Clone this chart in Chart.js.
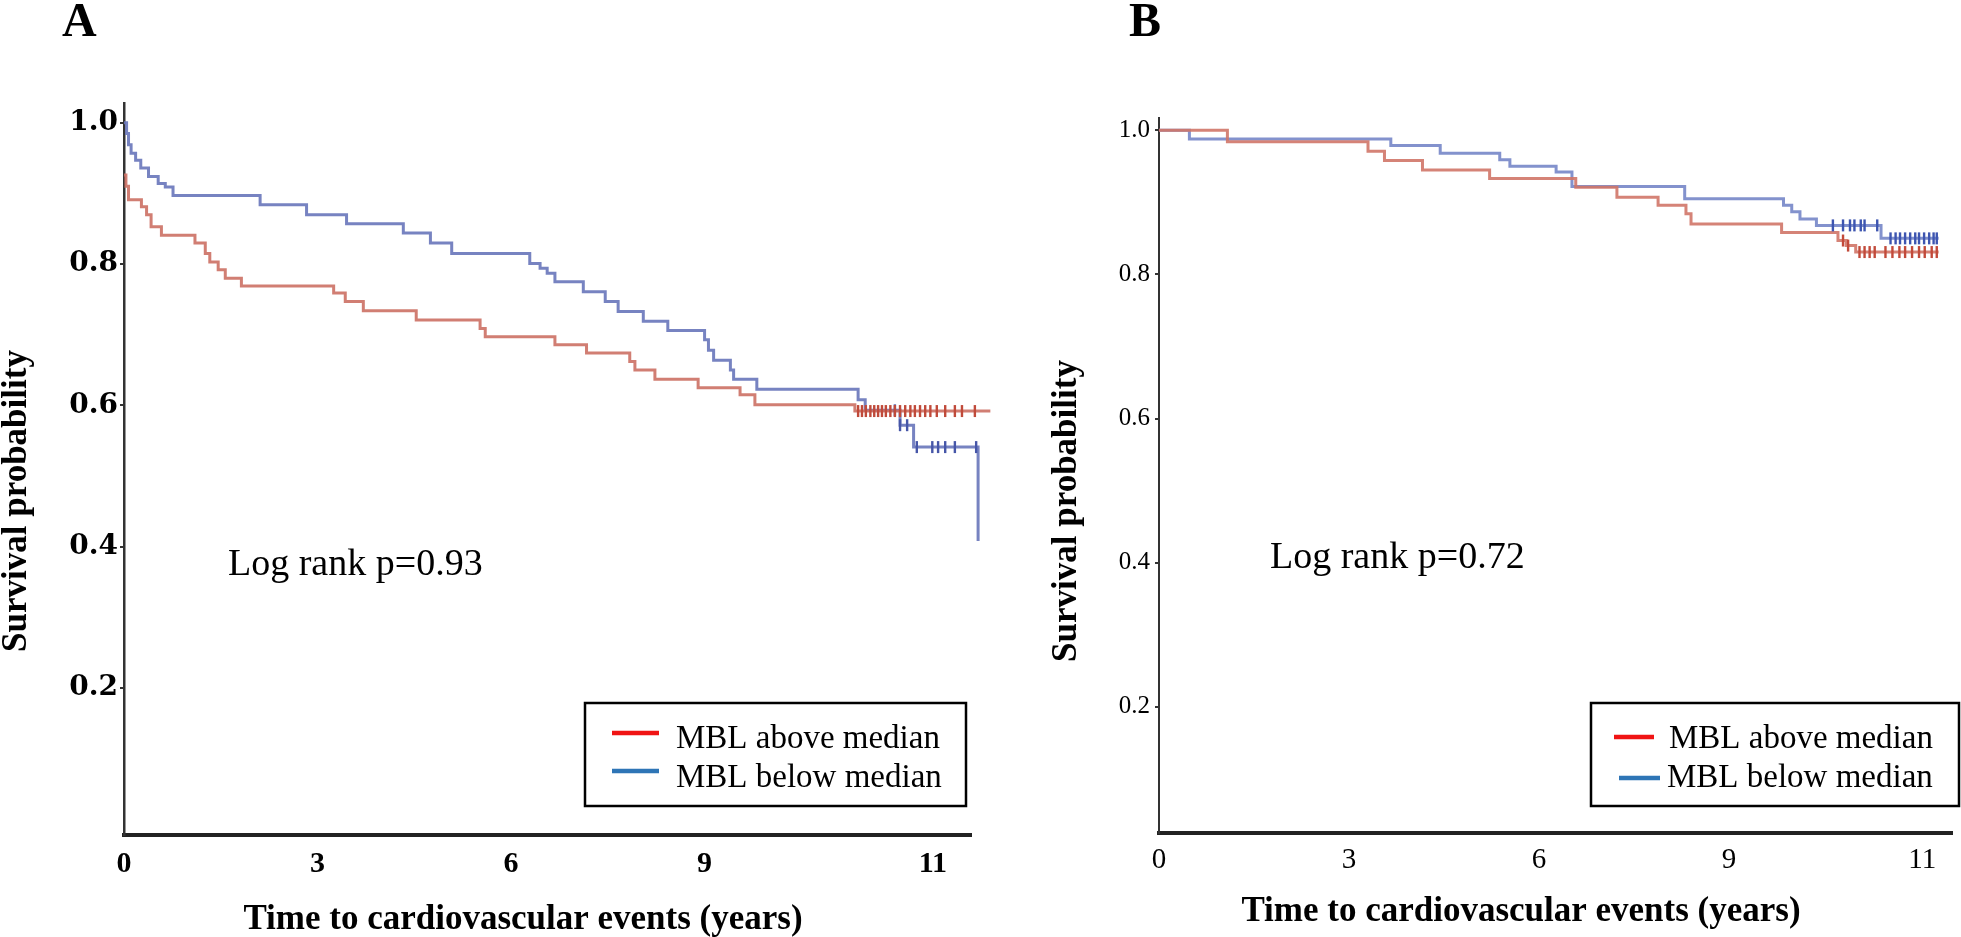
<!DOCTYPE html>
<html><head><meta charset="utf-8">
<script src="https://cdn.jsdelivr.net/npm/chart.js@4.4.1/dist/chart.umd.min.js"></script>
<style>
html,body{margin:0;padding:0;background:#fff;width:1961px;height:937px;overflow:hidden}
canvas{position:absolute;top:0}
#cA{left:0}
#cB{left:1000px}
</style></head><body>
<canvas id="cA" width="1000" height="937"></canvas>
<canvas id="cB" width="961" height="937"></canvas>
<script>
// ---------- data ----------
const seriesNames = ['MBL above median', 'MBL below median'];
const xTickLabels = ['0', '3', '6', '9', '11'];
const xTickValuesA = [0, 3, 6, 9, 12.54];
const xTickValuesB = [0, 3, 6, 9, 12.05];
const yTickValues = [0.2, 0.4, 0.6, 0.8, 1.0];
const pTextA = 'Log rank p=0.93';
const pTextB = 'Log rank p=0.72';
const xTitle = 'Time to cardiovascular events (years)';
const yTitle = 'Survival probability';

// Panel A - MBL above median (red)
const timeA_above = [0, 0.03, 0.07, 0.27, 0.35, 0.42, 0.58, 1.10, 1.26, 1.33, 1.46, 1.57, 1.82, 3.25, 3.43, 3.71, 4.53, 5.52, 5.60, 6.68, 7.17, 7.84, 7.92, 8.23, 8.90, 9.55, 9.78, 11.33, 13.43];
const survA_above = [0.926, 0.910, 0.891, 0.881, 0.870, 0.853, 0.841, 0.830, 0.815, 0.803, 0.792, 0.780, 0.769, 0.759, 0.747, 0.734, 0.721, 0.709, 0.697, 0.686, 0.674, 0.662, 0.650, 0.637, 0.625, 0.615, 0.601, 0.592, 0.592];
const censorA_above = [11.38, 11.44, 11.50, 11.57, 11.63, 11.69, 11.75, 11.81, 11.88, 11.95, 12.03, 12.11, 12.19, 12.26, 12.34, 12.42, 12.50, 12.60, 12.73, 12.88, 12.99, 13.19, 13.40];
// Panel A - MBL below median (blue)
const timeA_below = [0, 0.04, 0.07, 0.11, 0.18, 0.26, 0.38, 0.53, 0.64, 0.76, 2.11, 2.83, 3.45, 4.33, 4.75, 5.08, 6.29, 6.45, 6.56, 6.68, 7.12, 7.46, 7.66, 8.05, 8.43, 9.00, 9.06, 9.14, 9.40, 9.45, 9.81, 11.38, 11.49, 12.03, 12.24, 13.24, 13.43];
const survA_below = [1.0, 0.985, 0.969, 0.957, 0.947, 0.936, 0.924, 0.914, 0.909, 0.897, 0.884, 0.870, 0.857, 0.844, 0.830, 0.815, 0.801, 0.794, 0.787, 0.775, 0.761, 0.747, 0.733, 0.719, 0.706, 0.693, 0.678, 0.664, 0.650, 0.637, 0.623, 0.608, 0.593, 0.572, 0.541, 0.408, 0.408];
const censorA_below = [11.95, 12.03, 12.14, 12.29, 12.53, 12.62, 12.73, 12.88, 13.21, 13.32];

// Panel B - MBL above median (red)
const timeB_above = [0, 1.08, 3.30, 3.56, 4.16, 5.22, 6.58, 7.23, 7.88, 8.32, 8.40, 9.83, 10.72, 10.85, 11.00, 12.31];
const survB_above = [1.0, 0.984, 0.971, 0.958, 0.945, 0.933, 0.921, 0.907, 0.896, 0.884, 0.870, 0.858, 0.847, 0.840, 0.831, 0.831];
const censorB_above = [10.80, 10.88, 11.06, 11.14, 11.22, 11.30, 11.47, 11.58, 11.69, 11.78, 11.89, 12.00, 12.09, 12.20, 12.28];
// Panel B - MBL below median (blue)
const timeB_below = [0, 0.48, 3.66, 4.44, 5.38, 5.54, 6.27, 6.52, 8.30, 9.86, 9.99, 10.12, 10.38, 11.40, 12.31];
const survB_below = [1.0, 0.988, 0.979, 0.968, 0.959, 0.950, 0.942, 0.922, 0.905, 0.896, 0.887, 0.877, 0.868, 0.850, 0.850];
const censorB_below = [10.64, 10.80, 10.91, 10.98, 11.08, 11.14, 11.34, 11.55, 11.63, 11.70, 11.78, 11.86, 11.94, 12.00, 12.08, 12.16, 12.23, 12.28];

// ---------- helpers ----------
function stepAt(ts, ss, t) {
  let v = ss[0];
  for (let i = 0; i < ts.length; i++) { if (ts[i] <= t) v = ss[i]; }
  return v;
}
const pts = (ts, ss) => ts.map((t, i) => ({ x: t, y: ss[i] }));
const cens = (cs, ts, ss) => cs.map(t => ({ x: t, y: stepAt(ts, ss, t) }));

const SERIF = '"Liberation Serif", "Times New Roman", serif';
Chart.defaults.font.family = SERIF;
Chart.defaults.color = '#000';

const textPlugin = {
  id: 'panelText',
  afterDraw(chart, args, o) {
    const ctx = chart.ctx;
    ctx.save();
    ctx.fillStyle = '#000';
    ctx.textBaseline = 'alphabetic';
    ctx.textAlign = 'left';
    ctx.font = 'bold 48px ' + SERIF;
    ctx.fillText(o.letter, o.letterX, o.letterY);
    ctx.font = '38px ' + SERIF;
    ctx.fillText(o.pText, o.pX, o.pY);
    ctx.font = 'bold 35px ' + SERIF;
    ctx.textAlign = 'center';
    ctx.fillText(xTitle, o.xTitleX, o.xTitleY);
    ctx.save();
    ctx.translate(o.yTitleX, o.yTitleY);
    ctx.rotate(-Math.PI / 2);
    ctx.font = 'bold 35px ' + SERIF;
    ctx.fillText(yTitle, 0, 0);
    ctx.restore();
    const L = o.legend;
    ctx.fillStyle = '#fff';
    ctx.fillRect(L.x, L.y, L.w, L.h);
    ctx.strokeStyle = '#000';
    ctx.lineWidth = 2.5;
    ctx.strokeRect(L.x, L.y, L.w, L.h);
    L.items.forEach((it, i) => {
      ctx.strokeStyle = it.color;
      ctx.lineWidth = 4.5;
      ctx.beginPath(); ctx.moveTo(it.x1, it.ly); ctx.lineTo(it.x2, it.ly); ctx.stroke();
      ctx.fillStyle = '#000';
      ctx.font = '33px ' + SERIF;
      ctx.textAlign = 'left';
      ctx.fillText(seriesNames[i], it.tx, it.ty);
    });
    ctx.restore();
  }
};

function makeChart(id, p) {
  const lineDs = (ts, ss, color) => ({
    data: pts(ts, ss), stepped: true, borderColor: color, borderWidth: 3,
    pointRadius: 0, fill: false, tension: 0, clip: false, order: 2
  });
  const cenDs = (cs, ts, ss, color) => ({
    data: cens(cs, ts, ss), showLine: false, pointStyle: 'line', rotation: 90,
    pointRadius: 6, pointBorderWidth: 2.4, pointBorderColor: color,
    pointBackgroundColor: color, clip: false, order: 1
  });
  return new Chart(document.getElementById(id), {
    type: 'line',
    data: {
      datasets: [
        lineDs(p.tA, p.sA, p.redLine),
        lineDs(p.tB, p.sB, p.blueLine),
        cenDs(p.cA, p.tA, p.sA, p.redMark),
        cenDs(p.cB, p.tB, p.sB, p.blueMark)
      ]
    },
    options: {
      responsive: false, animation: false, devicePixelRatio: 1,
      layout: { padding: { top: p.top, right: p.right, left: 0, bottom: 0 } },
      plugins: { legend: { display: false }, tooltip: { enabled: false }, panelText: p.text },
      scales: {
        x: {
          type: 'linear', min: 0, max: p.xMax,
          afterBuildTicks: s => { s.ticks = p.xTicks.map(v => ({ value: v })); },
          afterFit: s => { s.height = p.xH; },
          ticks: {
            autoSkip: false, maxRotation: 0, padding: p.xPad,
            font: { size: p.xFont, weight: p.xWeight },
            callback: (v, i) => xTickLabels[i]
          },
          grid: { display: false, drawTicks: false, tickLength: 0 },
          border: { display: true, color: '#222', width: 4 }
        },
        y: {
          type: 'linear', min: p.yMin, max: p.yMax,
          afterBuildTicks: s => { s.ticks = yTickValues.map(v => ({ value: v })); },
          afterFit: s => { s.width = p.yW; },
          ticks: {
            padding: p.yPad,
            font: { size: p.yFont, weight: p.yWeight, family: p.yFamily },
            callback: v => Number(v).toFixed(1)
          },
          grid: { display: true, drawOnChartArea: false, drawTicks: true, tickLength: 4, color: '#333', lineWidth: 2 },
          border: { display: true, color: '#333', width: p.yAxisW }
        }
      }
    },
    plugins: [textPlugin]
  });
}

makeChart('cA', {
  tA: timeA_above, sA: survA_above, cA: censorA_above,
  tB: timeA_below, sB: survA_below, cB: censorA_below,
  redLine: 'rgba(204,112,100,0.9)', blueLine: 'rgba(104,118,186,0.9)',
  redMark: '#c04a3a', blueMark: '#4656a8',
  top: 103, right: 29, xMax: 13.13, yMin: -0.008, yMax: 1.028,
  xTicks: xTickValuesA, xH: 102, xPad: 11, xFont: 30, xWeight: 'bold',
  yW: 124, yPad: 2, yFont: 28, yWeight: 'bold', yFamily: '"DejaVu Serif", serif', yAxisW: 2.5,
  text: {
    letter: 'A', letterX: 62, letterY: 36,
    pText: pTextA, pX: 228, pY: 575,
    xTitleX: 523, xTitleY: 929,
    yTitleX: 26, yTitleY: 501,
    legend: {
      x: 585, y: 703, w: 381, h: 103,
      items: [
        { color: '#f01414', x1: 612, x2: 659, ly: 733, tx: 676, ty: 748 },
        { color: '#2e75b6', x1: 612, x2: 659, ly: 771, tx: 676, ty: 787 }
      ]
    }
  }
});

makeChart('cB', {
  tA: timeB_above, sA: survB_above, cA: censorB_above,
  tB: timeB_below, sB: survB_below, cB: censorB_below,
  redLine: 'rgba(208,118,104,0.9)', blueLine: 'rgba(118,134,200,0.9)',
  redMark: '#c24a3a', blueMark: '#3d55b0',
  top: 118, right: 0, xMax: 12.53, yMin: 0.025, yMax: 1.017,
  xTicks: xTickValuesB, xH: 104, xPad: 10, xFont: 29, xWeight: 'normal',
  yW: 159, yPad: 5, yFont: 25, yWeight: 'normal', yFamily: SERIF, yAxisW: 2,
  text: {
    letter: 'B', letterX: 129, letterY: 36,
    pText: pTextB, pX: 270, pY: 568,
    xTitleX: 521, xTitleY: 921,
    yTitleX: 76, yTitleY: 511,
    legend: {
      x: 591, y: 703, w: 368, h: 103,
      items: [
        { color: '#f01414', x1: 614, x2: 654, ly: 737, tx: 669, ty: 748 },
        { color: '#2e75b6', x1: 619, x2: 660, ly: 778, tx: 667, ty: 787 }
      ]
    }
  }
});
</script>
</body></html>
